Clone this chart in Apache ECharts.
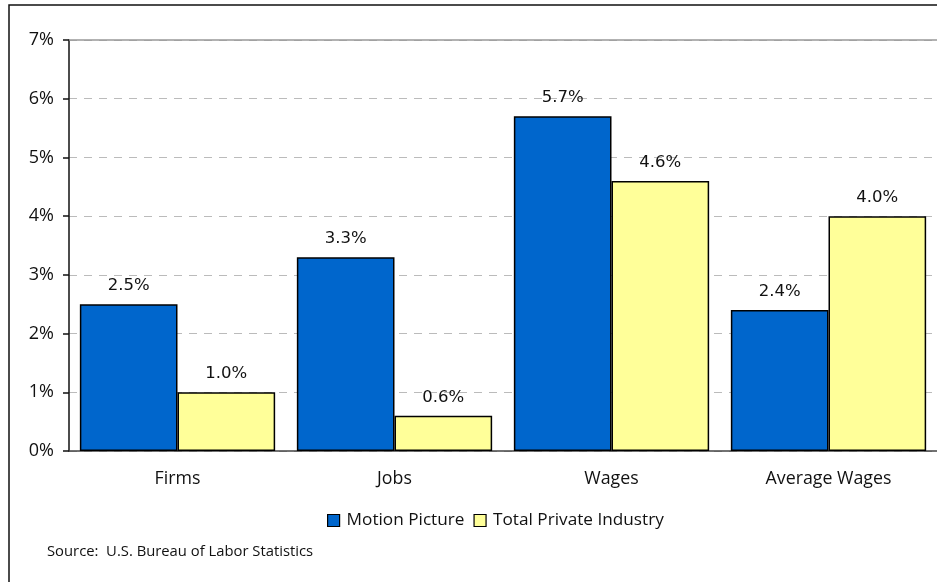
<!DOCTYPE html>
<html><head><meta charset="utf-8">
<script src="https://cdn.jsdelivr.net/npm/echarts@6/dist/echarts.min.js"></script>
<style>html,body{margin:0;padding:0;background:#fff}#c{width:937px;height:582px}</style>
</head><body><div id="c"></div>
<script>
const categories = ['Firms', 'Jobs', 'Wages', 'Average Wages'];
const motionPicture = [2.5, 3.3, 5.7, 2.4];
const totalPrivate = [1.0, 0.6, 4.6, 4.0];
const yTicks = [0, 1, 2, 3, 4, 5, 6, 7];
const sourceText = 'Source:  U.S. Bureau of Labor Statistics';

const chart = echarts.init(document.getElementById('c'), null, {renderer: 'canvas'});
const labelStyle = {show: true, position: 'top', distance: 10, formatter: p => p.value.toFixed(1) + '%', fontFamily: 'DejaVu Sans', fontSize: 16.5, color: '#111'};
chart.setOption({
  animation: false,
  graphic: [
    {type: 'rect', shape: {x: 9, y: 5, width: 940, height: 600}, style: {fill: 'none', stroke: '#111', lineWidth: 1.5}, z: 100},
    {type: 'text', left: 47, top: 544, style: {text: sourceText, fontFamily: 'Open Sans', fontSize: 14.8, fill: '#111'}}
  ],
  grid: {left: 69, right: 0, top: 40, bottom: 131},
  legend: {
    top: 507, left: 322, itemWidth: 12, itemHeight: 12, itemGap: 9, icon: 'rect',
    textStyle: {fontFamily: 'Open Sans', fontSize: 17.2, color: '#111', padding: [0, 0, 0, 2]},
    data: [{name: 'Motion Picture', itemStyle: {borderColor: '#000', borderWidth: 1.2}}, {name: 'Total Private Industry', itemStyle: {borderColor: '#000', borderWidth: 1.2}}]
  },
  xAxis: {
    type: 'category', data: categories,
    axisLine: {lineStyle: {color: '#444', width: 1.5}},
    axisTick: {show: false},
    axisLabel: {fontFamily: 'Open Sans', fontSize: 17.8, color: '#111', margin: 19}
  },
  yAxis: {
    type: 'value', min: yTicks[0], max: yTicks[yTicks.length - 1], interval: 1,
    axisLine: {show: true, lineStyle: {color: '#111', width: 1.5}},
    axisTick: {show: true, length: 6, lineStyle: {color: '#111', width: 1.5}},
    axisLabel: {formatter: v => v + '%', fontFamily: 'Open Sans', fontSize: 18, color: '#111', margin: 15},
    splitLine: {show: true, lineStyle: {color: '#bbb', type: [8, 7], width: 1}}
  },
  series: [
    {name: 'Motion Picture', type: 'bar', data: motionPicture, barGap: '0%', barCategoryGap: '10%',
     itemStyle: {color: '#0066CC', borderColor: '#000', borderWidth: 1.5}, label: labelStyle,
     markLine: {silent: true, symbol: 'none', label: {show: false}, lineStyle: {color: '#999', type: 'solid', width: 1.5}, data: [{yAxis: 7}]}},
    {name: 'Total Private Industry', type: 'bar', data: totalPrivate,
     itemStyle: {color: '#FFFF99', borderColor: '#000', borderWidth: 1.5}, label: labelStyle}
  ]
});
</script></body></html>
